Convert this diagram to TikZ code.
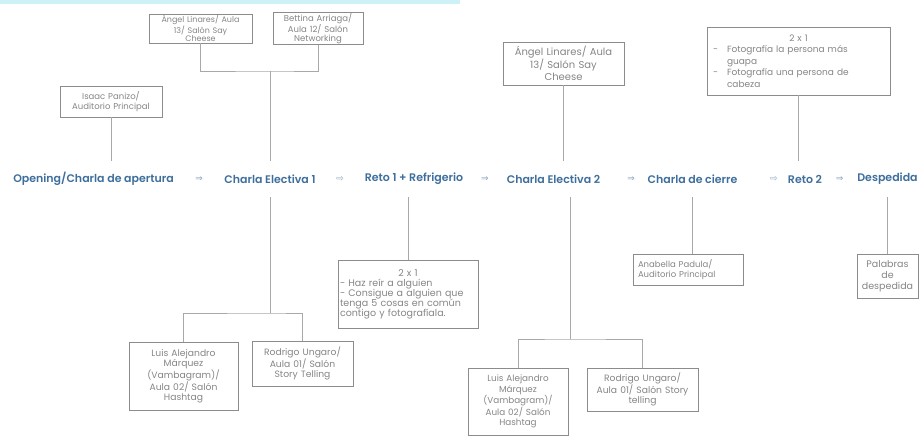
\documentclass[tikz,border=0pt]{standalone}
\usepackage{fontspec}
\setmainfont{Poppins}[BoldFont={Poppins SemiBold}]
\newfontfamily\symfont{DejaVu Sans}
\usetikzlibrary{positioning}
\definecolor{title}{HTML}{3D6E9C}
\definecolor{note}{HTML}{858585}
\definecolor{frame}{HTML}{8C8C8C}
\definecolor{wire}{HTML}{A8A8A8}
\definecolor{pointer}{HTML}{8AA4C0}
\definecolor{band}{HTML}{CDF1F7}

\begin{document}
\begin{tikzpicture}[x=1pt, y=-1pt,
	stage/.style={text=title, font=\bfseries\fontsize{11}{13}\selectfont, minimum height=36, inner xsep=1pt},
	card/.style={draw=frame, line width=0.8pt, text=note, inner xsep=2pt, inner ysep=1pt, align=center},
	link/.style={draw=wire, line width=0.8pt},
	arr/.style={text=pointer, font=\symfont\fontsize{9}{9}\selectfont, inner sep=0pt}]

	\useasboundingbox (0,0) rectangle (923,436);
	\fill[band] (0,0) rectangle (460,4);

	\node[stage] (O)  at (93.5,179)  {Opening/Charla de apertura};
	\node[stage] (E1) at (270,179)   {Charla Electiva 1};
	\node[stage] (R1) at (414,179)   {Reto 1 + Refrigerio};
	\node[stage] (E2) at (553.5,179) {Charla Electiva 2};
	\node[stage] (C)  at (692.5,179) {Charla de cierre};
	\node[stage] (R2) at (805,179)   {Reto 2};
	\node[stage] (D)  at (887.5,179) {Despedida};

	\path (O)  -- node[arr] {⇒} (E1);
	\path (E1) -- node[arr] {⇨} (R1);
	\path (R1) -- node[arr] {⇒} (E2);
	\path (E2) -- node[arr, pos=0.66] {⇒} (C);
	\path (C)  -- node[arr, pos=0.73] {⇨} (R2);
	\path (R2) -- node[arr] {⇒} (D);

	\node[card, text width=99, minimum height=27, font=\fontsize{8}{8.5}\selectfont]    (A1) at (200.5,28.5) {Ángel Linares/ Aula\\13/ Salón Say\\Cheese};
	\node[card, text width=86, minimum height=27, font=\fontsize{8.5}{8.5}\selectfont]  (BA) at (318,28.5)   {Bettina Arriaga/\\Aula 12/ Salón\\Networking};
	\node[card, text width=98, minimum height=31, font=\fontsize{8.5}{9.5}\selectfont]  (IP) at (111,101.5)  {Isaac Panizo/\\Auditorio Principal};
	\node[card, text width=117, minimum height=43, font=\fontsize{10}{11.5}\selectfont] (A2) at (563.5,63.5) {Ángel Linares/ Aula\\13/ Salón Say\\Cheese};
	\node[card, text width=179, minimum height=68, align=left, font=\fontsize{9}{11.5}\selectfont] (G2) at (798.5,61)
		{\makebox[179pt]{2 x 1}\\\hspace*{4pt}\makebox[14pt][l]{-}Fotografía la persona más\\\hspace*{18pt}guapa\\\hspace*{4pt}\makebox[14pt][l]{-}Fotografía una persona de\\\hspace*{18pt}cabeza};

	\node[card, text width=136, minimum height=68, align=left, font=\fontsize{9.5}{10}\selectfont] (G1) at (408,294)
		{\makebox[136pt]{2 x 1}\\- Haz reír a alguien\\- Consigue a alguien que\\tenga 5 cosas en común\\contigo y fotografíala.};
	\node[card, text width=105, minimum height=68, font=\fontsize{9.2}{9.5}\selectfont]  (L1) at (183.5,376)   {Luis Alejandro\\Márquez\\(Vambagram)/\\Aula 02/ Salón\\Hashtag};
	\node[card, text width=97, minimum height=45, font=\fontsize{9.2}{10}\selectfont]    (U1) at (302.5,363.5) {Rodrigo Ungaro/\\Aula 01/ Salón\\Story Telling};
	\node[card, text width=96, minimum height=67, font=\fontsize{8.8}{10.5}\selectfont]  (L2) at (518,401.5)   {Luis Alejandro\\Márquez\\(Vambagram)/\\Aula 02/ Salón\\Hashtag};
	\node[card, text width=107, minimum height=43, font=\fontsize{9.2}{10.5}\selectfont] (U2) at (642.5,389.5) {Rodrigo Ungaro/\\Aula 01/ Salón Story\\telling};
	\node[card, text width=100, minimum height=31, align=left, inner xsep=5pt, font=\fontsize{8.5}{10}\selectfont] (AP) at (688,269.5) {Anabella Padula/\\Auditorio Principal};
	\node[card, text width=57, minimum height=44, font=\fontsize{9.5}{11}\selectfont]    (PD) at (887.5,276)   {Palabras\\de\\despedida};

	\coordinate (J1) at (270,71);
	\coordinate (J2) at (270,313);
	\coordinate (J3) at (570,339);

	\draw[link] (A1.south) |- (J1) -| (BA.south);
	\draw[link] (J1) -- (E1);
	\draw[link] (IP.south) -- (IP.south |- O.north);
	\draw[link] (A2.south) -- (A2.south |- E2.north);
	\draw[link] (G2.south) -- (G2.south |- R2.north);
	\draw[link] (E1) -- (J2);
	\draw[link] (L1.north) |- (J2) -| (U1.north);
	\draw[link] (G1.north) -- (G1.north |- R1.south);
	\draw[link] (J3 |- E2.south) -- (J3);
	\draw[link] (L2.north) |- (J3) -| (U2.north);
	\draw[link] (C.south) -- (C.south |- AP.north);
	\draw[link] (D.south) -- (D.south |- PD.north);
\end{tikzpicture}
\end{document}
